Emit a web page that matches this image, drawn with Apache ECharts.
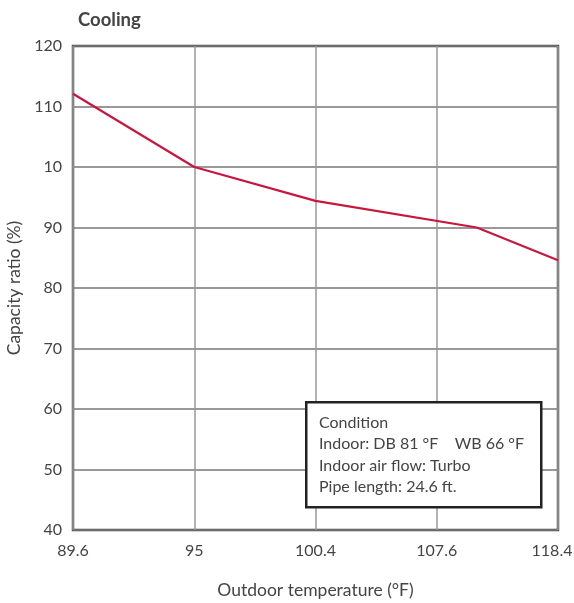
<!DOCTYPE html>
<html><head><meta charset="utf-8">
<script src="https://cdn.jsdelivr.net/npm/echarts@6/dist/echarts.min.js"></script>
<style>html,body{margin:0;padding:0;background:#fff;overflow:hidden}#c{width:574px;height:603px}</style>
</head><body><div id="c"></div>
<script>
// X tick labels (evenly spaced positions 0..4)
const xTickLabels = ['89.6', '95', '100.4', '107.6', '118.4'];
// Y tick labels as printed in the original (note "10" at the 100 line)
const yTickValues = [40, 50, 60, 70, 80, 90, 100, 110, 120];
const yTickLabels = ['40', '50', '60', '70', '80', '90', '10', '110', '120'];
// Curve: position along x tick index, capacity ratio (%)
const curveX = [0, 1, 2, 3.33, 4];
const curveY = [112.1, 100, 94.4, 90, 84.6];
const conditionLines = ['Condition', 'Indoor: DB 81 °F    WB 66 °F', 'Indoor air flow: Turbo', 'Pipe length: 24.6 ft.'];

const FONT = 'Lato';
const chart = echarts.init(document.getElementById('c'));
chart.setOption({
  animation: false,
  title: {
    text: 'Cooling', left: 73, top: 6,
    textStyle: { fontFamily: FONT, fontSize: 18.5, fontWeight: 'bold', color: '#444' }
  },
  grid: { left: 73, right: 16, top: 46, bottom: 73, containLabel: false, outerBoundsMode: 'none',
          show: true, borderColor: '#4a4a4a', borderWidth: 2.5 },
  xAxis: {
    type: 'value', min: 0, max: 4, interval: 1,
    name: 'Outdoor temperature (°F)', nameLocation: 'middle', nameGap: 51,
    nameTextStyle: { fontFamily: FONT, fontSize: 17.5, color: '#444' },
    axisLine: { show: false }, axisTick: { show: false },
    axisLabel: {
      margin: 13, fontFamily: FONT, fontSize: 16, color: '#444',
      formatter: v => {
        const i = Math.round(v);
        const t = xTickLabels[i] || '';
        return i === xTickLabels.length - 1 ? '{last|' + t + '}' : t;
      },
      rich: { last: { fontFamily: FONT, fontSize: 16, color: '#444', padding: [0, 12, 0, 0] } }
    },
    splitLine: { show: true, lineStyle: { color: '#999', width: 1.5 } }
  },
  yAxis: {
    type: 'value', min: 40, max: 120, interval: 10,
    name: 'Capacity ratio (%)', nameLocation: 'middle', nameGap: 48,
    nameTextStyle: { fontFamily: FONT, fontSize: 17.5, color: '#444' },
    axisLine: { show: false }, axisTick: { show: false },
    axisLabel: {
      margin: 11, fontFamily: FONT, fontSize: 16, color: '#444',
      formatter: v => { const i = yTickValues.indexOf(v); return i >= 0 ? yTickLabels[i] : ''; }
    },
    splitLine: { show: true, lineStyle: { color: '#777', width: 1.5 } }
  },
  series: [{
    type: 'line', symbol: 'none',
    data: curveX.map((x, i) => [x, curveY[i]]),
    lineStyle: { color: '#c8173f', width: 2.2 },
    z: 5
  }],
  graphic: [
    { type: 'rect', z: 100, left: 305, top: 401, shape: { width: 235, height: 105 },
      style: { fill: '#ffffff', stroke: '#222', lineWidth: 2.5 } },
    { type: 'text', z: 101, left: 319, top: 412,
      style: { text: conditionLines.join('\n'), fontFamily: FONT, fontSize: 16, lineHeight: 21.5, fill: '#444' } }
  ]
});
</script></body></html>
